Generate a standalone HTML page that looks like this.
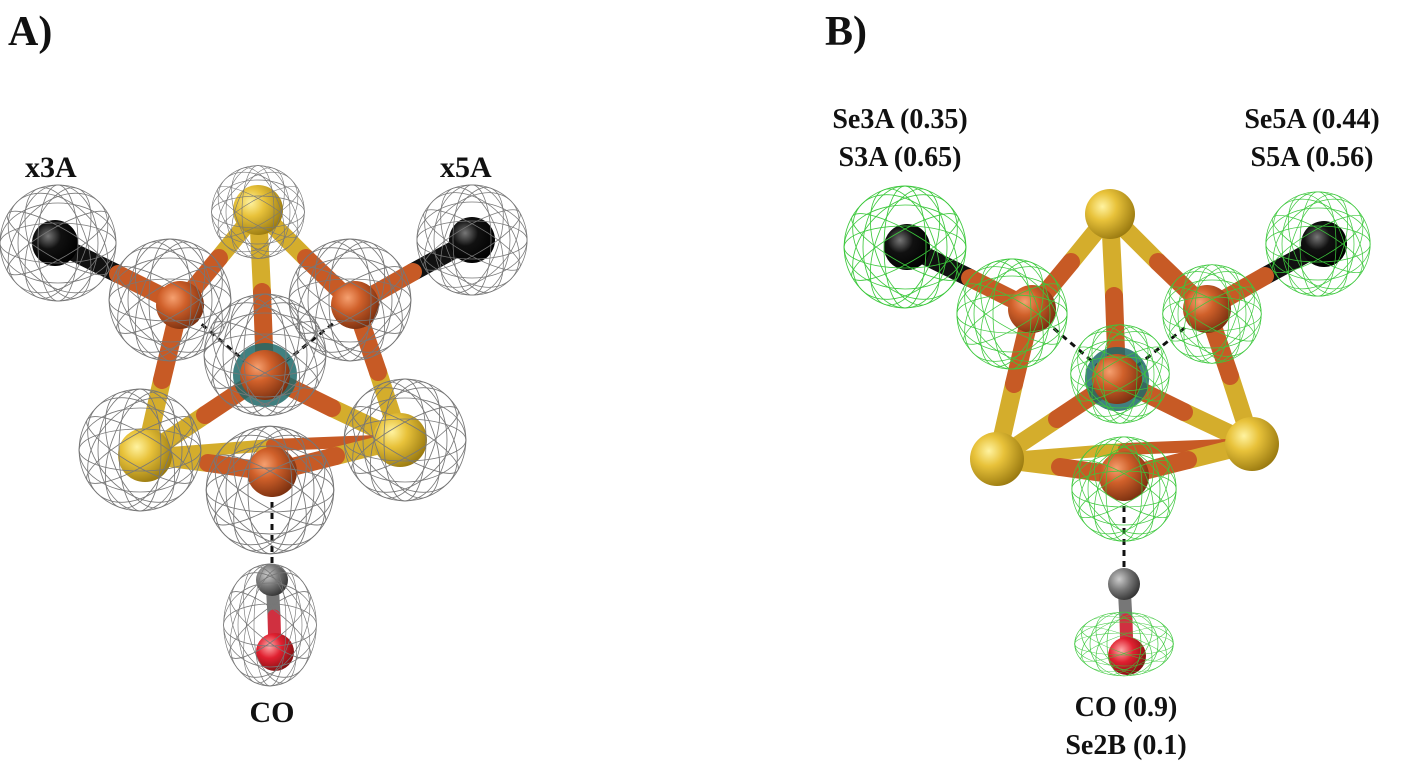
<!DOCTYPE html>
<html><head><meta charset="utf-8"><style>
body{margin:0;background:#fff;width:1417px;height:766px;overflow:hidden}
svg{display:block}
text{font-family:"Liberation Serif",serif;font-weight:bold;fill:#111}
</style></head><body>
<svg width="1417" height="766" viewBox="0 0 1417 766" xmlns="http://www.w3.org/2000/svg">
<defs>
<radialGradient id="gy" cx="0.35" cy="0.35" r="0.7"><stop offset="0" stop-color="#fff3a0"/><stop offset="0.4" stop-color="#e8c23a"/><stop offset="1" stop-color="#9a7a10"/></radialGradient>
<radialGradient id="go" cx="0.35" cy="0.35" r="0.7"><stop offset="0" stop-color="#f5a070"/><stop offset="0.4" stop-color="#d0602a"/><stop offset="1" stop-color="#7a3010"/></radialGradient>
<radialGradient id="gk" cx="0.35" cy="0.35" r="0.7"><stop offset="0" stop-color="#777"/><stop offset="0.4" stop-color="#111"/><stop offset="1" stop-color="#000"/></radialGradient>
<radialGradient id="gg" cx="0.35" cy="0.35" r="0.7"><stop offset="0" stop-color="#ccc"/><stop offset="0.5" stop-color="#777"/><stop offset="1" stop-color="#333"/></radialGradient>
<radialGradient id="gr" cx="0.35" cy="0.35" r="0.7"><stop offset="0" stop-color="#ffaaaa"/><stop offset="0.45" stop-color="#e02030"/><stop offset="1" stop-color="#801010"/></radialGradient>
<g id="meshG" fill="none" stroke-width="0.8">
<circle r="58"/><ellipse rx="58" ry="40"/><ellipse rx="58" ry="20"/><ellipse rx="40" ry="58"/><ellipse rx="20" ry="58"/>
<ellipse rx="58" ry="40" transform="rotate(45)"/><ellipse rx="58" ry="40" transform="rotate(-45)"/><ellipse rx="58" ry="15" transform="rotate(30)"/><ellipse rx="58" ry="15" transform="rotate(-30)"/>
<ellipse rx="58" ry="28" transform="rotate(70)"/><ellipse rx="58" ry="28" transform="rotate(-70)"/>
</g>
<g id="mol">
<g stroke-linecap="round" stroke-width="18">
<line x1="55" y1="243" x2="118" y2="274" stroke="#111"/><line x1="118" y1="274" x2="180" y2="305" stroke="#c75a25"/>
<line x1="472" y1="240" x2="413" y2="272" stroke="#111"/><line x1="413" y1="272" x2="355" y2="305" stroke="#c75a25"/>
<line x1="258" y1="210" x2="219" y2="258" stroke="#d4ad2c"/><line x1="219" y1="258" x2="180" y2="305" stroke="#c75a25"/>
<line x1="258" y1="210" x2="306" y2="258" stroke="#d4ad2c"/><line x1="306" y1="258" x2="355" y2="305" stroke="#c75a25"/>
<line x1="258" y1="210" x2="262" y2="292" stroke="#d4ad2c"/><line x1="262" y1="292" x2="265" y2="375" stroke="#c75a25"/>
<line x1="145" y1="455" x2="162" y2="380" stroke="#d4ad2c"/><line x1="162" y1="380" x2="180" y2="305" stroke="#c75a25"/>
<line x1="400" y1="440" x2="378" y2="372" stroke="#d4ad2c"/><line x1="378" y1="372" x2="355" y2="305" stroke="#c75a25"/>
<line x1="145" y1="455" x2="205" y2="415" stroke="#d4ad2c"/><line x1="205" y1="415" x2="265" y2="375" stroke="#c75a25"/>
<line x1="400" y1="440" x2="332" y2="408" stroke="#d4ad2c"/><line x1="332" y1="408" x2="265" y2="375" stroke="#c75a25"/>
<line x1="145" y1="455" x2="272" y2="445" stroke="#d4ad2c" stroke-width="12"/>
<line x1="272" y1="445" x2="400" y2="440" stroke="#c75a25" stroke-width="12"/>
<line x1="145" y1="455" x2="208" y2="463" stroke="#d4ad2c"/><line x1="208" y1="463" x2="272" y2="472" stroke="#c75a25"/>
<line x1="400" y1="440" x2="336" y2="456" stroke="#d4ad2c"/><line x1="336" y1="456" x2="272" y2="472" stroke="#c75a25"/>
<line x1="272" y1="580" x2="274" y2="616" stroke="#777" stroke-width="13"/><line x1="274" y1="616" x2="275" y2="652" stroke="#d03040" stroke-width="13"/>
</g>
<g stroke="#111" stroke-width="3" stroke-dasharray="6,5">
<line x1="272" y1="480" x2="272" y2="572"/><line x1="185" y1="310" x2="255" y2="370"/><line x1="350" y1="310" x2="275" y2="370"/>
</g>
<circle cx="265" cy="375" r="32" fill="#1e6a6a" opacity="0.85"/>
<circle cx="258" cy="210" r="25" fill="url(#gy)"/>
<circle cx="145" cy="455" r="27" fill="url(#gy)"/>
<circle cx="400" cy="440" r="27" fill="url(#gy)"/>
<circle cx="55" cy="243" r="23" fill="url(#gk)"/>
<circle cx="472" cy="240" r="23" fill="url(#gk)"/>
<circle cx="180" cy="305" r="24" fill="url(#go)"/>
<circle cx="355" cy="305" r="24" fill="url(#go)"/>
<circle cx="265" cy="375" r="25" fill="url(#go)"/>
<circle cx="272" cy="472" r="25" fill="url(#go)"/>
<circle cx="272" cy="580" r="16" fill="url(#gg)"/>
<circle cx="275" cy="652" r="19" fill="url(#gr)"/>
</g>
</defs>

<use href="#mol"/>
<g stroke="#777">
<use href="#meshG" transform="translate(258,212) scale(0.8)"/>
<use href="#meshG" transform="translate(58,243) scale(1)"/>
<use href="#meshG" transform="translate(472,240) scale(0.95)"/>
<use href="#meshG" transform="translate(170,300) scale(1.05)"/>
<use href="#meshG" transform="translate(350,300) scale(1.05)"/>
<use href="#meshG" transform="translate(265,355) scale(1.05)"/>
<use href="#meshG" transform="translate(140,450) scale(1.05)"/>
<use href="#meshG" transform="translate(405,440) scale(1.05)"/>
<use href="#meshG" transform="translate(270,490) scale(1.1)"/>
<use href="#meshG" transform="translate(270,625) scale(0.8,1.05)"/>
</g>
<text x="8" y="45" font-size="42">A)</text>
<text x="25" y="177" font-size="30">x3A</text>
<text x="440" y="177" font-size="30">x5A</text>
<text x="272" y="722" font-size="30" text-anchor="middle">CO</text>

<g transform="translate(852,4)">
<use href="#mol"/>
<g stroke="#3cc83c">
<use href="#meshG" transform="translate(53,243) scale(1.05)"/>
<use href="#meshG" transform="translate(466,240) scale(0.9)"/>
<use href="#meshG" transform="translate(160,310) scale(0.95)"/>
<use href="#meshG" transform="translate(360,310) scale(0.85)"/>
<use href="#meshG" transform="translate(268,370) scale(0.85)"/>
<use href="#meshG" transform="translate(272,485) scale(0.9)"/>
<use href="#meshG" transform="translate(272,640) scale(0.85,0.55)"/>
</g>
</g>
<text x="825" y="45" font-size="42">B)</text>
<text x="900" y="128" font-size="28" text-anchor="middle">Se3A (0.35)</text>
<text x="900" y="166" font-size="28" text-anchor="middle">S3A (0.65)</text>
<text x="1312" y="128" font-size="28" text-anchor="middle">Se5A (0.44)</text>
<text x="1312" y="166" font-size="28" text-anchor="middle">S5A (0.56)</text>
<text x="1126" y="716" font-size="28" text-anchor="middle">CO (0.9)</text>
<text x="1126" y="754" font-size="28" text-anchor="middle">Se2B (0.1)</text>
</svg>
</body></html>
